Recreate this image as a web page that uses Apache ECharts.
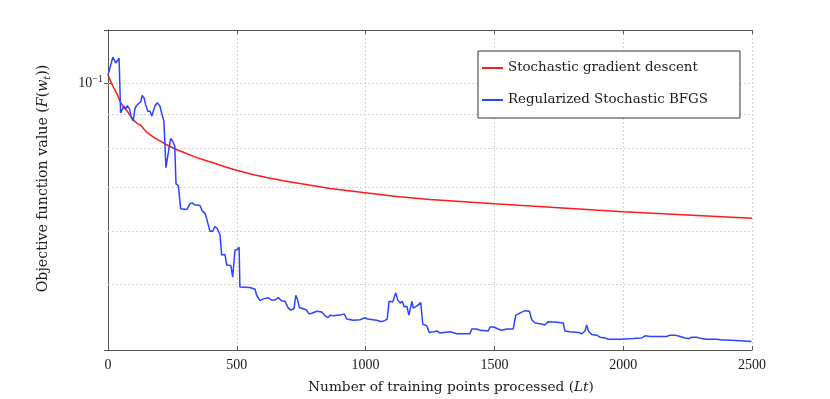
<!DOCTYPE html>
<html>
<head>
<meta charset="utf-8">
<script src="https://cdn.jsdelivr.net/npm/echarts@6/dist/echarts.min.js"></script>
<style>
html,body{margin:0;padding:0;background:#fff;}
#chart{width:830px;height:399px;}
</style>
</head>
<body>
<div id="chart"></div>
<script>
// ---- data ----
const xTicks = [0, 500, 1000, 1500, 2000, 2500];
const yGridValues = [0.05, 0.06, 0.07, 0.08, 0.09, 0.1];
const seriesNames = ['Stochastic gradient descent', 'Regularized Stochastic BFGS'];

const sgdX = [0, 10, 23, 36, 49, 62, 75, 88, 101, 114, 127, 140, 153, 179, 205, 224, 243, 263, 295, 334, 373, 411, 450, 489, 528, 570, 616, 681, 745, 862, 991, 1121, 1250, 1500, 1750, 2000, 2250, 2500];
const sgdY = [0.1031, 0.1008, 0.0985, 0.0963, 0.0936, 0.0920, 0.0909, 0.0894, 0.0880, 0.0871, 0.0866, 0.0854, 0.0844, 0.0830, 0.0819, 0.0811, 0.0804, 0.0797, 0.0788, 0.0777, 0.0768, 0.0760, 0.0751, 0.0743, 0.0736, 0.0729, 0.0723, 0.0715, 0.0708, 0.0696, 0.0686, 0.0677, 0.0670, 0.0660, 0.0651, 0.0642, 0.0635, 0.0628];

const bfgsX = [0, 19, 30, 36, 43, 48, 49, 56, 62, 69, 75, 84, 90, 98, 104, 109, 118, 127, 133, 140, 146, 155, 163, 170, 176, 182, 191, 202, 208, 217, 225, 230, 237, 243, 251, 259, 264, 273, 282, 306, 318, 327, 335, 357, 366, 377, 383, 396, 406, 415, 424, 435, 441, 454, 461, 467, 477, 484, 493, 503, 509, 512, 551, 571, 577, 590, 603, 622, 629, 635, 648, 661, 668, 674, 687, 700, 710, 722, 729, 736, 743, 758, 771, 780, 791, 810, 830, 840, 853, 862, 877, 888, 901, 917, 927, 952, 978, 998, 1007, 1043, 1063, 1075, 1084, 1091, 1105, 1117, 1125, 1134, 1142, 1150, 1160, 1168, 1175, 1180, 1185, 1192, 1201, 1214, 1222, 1237, 1247, 1263, 1278, 1289, 1328, 1354, 1405, 1412, 1431, 1444, 1476, 1483, 1496, 1515, 1528, 1548, 1573, 1583, 1593, 1602, 1619, 1625, 1636, 1645, 1658, 1677, 1696, 1709, 1742, 1767, 1774, 1793, 1826, 1839, 1852, 1858, 1865, 1878, 1897, 1910, 1929, 1942, 1988, 2039, 2072, 2085, 2104, 2130, 2156, 2169, 2182, 2201, 2221, 2240, 2253, 2266, 2285, 2305, 2324, 2344, 2363, 2382, 2402, 2408, 2453, 2498];
const bfgsY = [0.1031, 0.1096, 0.1074, 0.1071, 0.1092, 0.1086, 0.0904, 0.0902, 0.0925, 0.0917, 0.0927, 0.0915, 0.0891, 0.0879, 0.0915, 0.0925, 0.0933, 0.0939, 0.0960, 0.0952, 0.0930, 0.0909, 0.0909, 0.0894, 0.0899, 0.0925, 0.0936, 0.0925, 0.0904, 0.0879, 0.0748, 0.0746, 0.0801, 0.0827, 0.0820, 0.0806, 0.0707, 0.0703, 0.0649, 0.0647, 0.0660, 0.0662, 0.0658, 0.0656, 0.0644, 0.0638, 0.0627, 0.0600, 0.0600, 0.0610, 0.0606, 0.0593, 0.0553, 0.0554, 0.0534, 0.0537, 0.0533, 0.0512, 0.0562, 0.0564, 0.0568, 0.0495, 0.0494, 0.0491, 0.0481, 0.0472, 0.0475, 0.0477, 0.0480, 0.0473, 0.0473, 0.0477, 0.0480, 0.0472, 0.0471, 0.0460, 0.0457, 0.0459, 0.0481, 0.0473, 0.0461, 0.0459, 0.0457, 0.0451, 0.0452, 0.0455, 0.0454, 0.0449, 0.0445, 0.0449, 0.0448, 0.0449, 0.0449, 0.0451, 0.0443, 0.0441, 0.0442, 0.0445, 0.0443, 0.0441, 0.0439, 0.0441, 0.0443, 0.0471, 0.0470, 0.0485, 0.0473, 0.0468, 0.0471, 0.0462, 0.0463, 0.0449, 0.0448, 0.0471, 0.0460, 0.0457, 0.0464, 0.0469, 0.0435, 0.0433, 0.0423, 0.0424, 0.0425, 0.0422, 0.0424, 0.0421, 0.0421, 0.0428, 0.0428, 0.0426, 0.0425, 0.0431, 0.0431, 0.0428, 0.0426, 0.0428, 0.0428, 0.0449, 0.0451, 0.0453, 0.0456, 0.0453, 0.0455, 0.0442, 0.0437, 0.0436, 0.0434, 0.0439, 0.0438, 0.0437, 0.0425, 0.0424, 0.0423, 0.0421, 0.0425, 0.0434, 0.0425, 0.0420, 0.0419, 0.0416, 0.0415, 0.0413, 0.0413, 0.0414, 0.0415, 0.0418, 0.0417, 0.0417, 0.0417, 0.0417, 0.0419, 0.0419, 0.0417, 0.0415, 0.0414, 0.0416, 0.0416, 0.0414, 0.0413, 0.0413, 0.0413, 0.0412, 0.0412, 0.0411, 0.0411, 0.0410];

// ---- chart ----
const FONT = 'DejaVu Serif';
const NUMFONT = 'Liberation Serif';
const zip = (xs, ys) => xs.map((x, i) => [x, ys[i]]);
const chart = echarts.init(document.getElementById('chart'), null, {renderer: 'canvas'});

const yMin = 0.0398, yMax = 0.1204;
const gridLine = {show: true, lineStyle: {color: '#c8c8c8', type: [1.5, 2.5], width: 1}};
const TXT = '#1a1a1a';

chart.setOption({
  animation: false,
  backgroundColor: '#ffffff',
  textStyle: {fontFamily: FONT},
  grid: {left: 108, right: 78, top: 30, bottom: 47, show: false},
  legend: {
    orient: 'vertical',
    left: 478, top: 51,
    padding: [9, 32, 10, 4],
    itemGap: 16,
    itemWidth: 21, itemHeight: 2,
    icon: 'rect',
    backgroundColor: '#fff',
    borderColor: '#333', borderWidth: 1,
    textStyle: {fontFamily: FONT, fontSize: 13.4, color: TXT, lineHeight: 16},
    data: seriesNames
  },
  xAxis: [{
    type: 'value', min: xTicks[0], max: xTicks[xTicks.length - 1], interval: 500,
    name: 'Number of training points processed ({it|Lt})',
    nameLocation: 'middle', nameGap: 30,
    nameTextStyle: {fontFamily: FONT, fontSize: 13.7, color: TXT, padding: [0, 0, 0, 42],
      rich: {it: {fontFamily: FONT, fontStyle: 'italic', fontSize: 13.7, color: TXT}}},
    axisLine: {show: true, lineStyle: {color: '#555', width: 1}},
    axisTick: {show: true, inside: true, length: 4, lineStyle: {color: '#555'}},
    axisLabel: {fontFamily: NUMFONT, fontSize: 14, color: TXT, margin: 8, formatter: v => String(v)},
    splitLine: gridLine
  }, {
    type: 'value', position: 'top', min: 0, max: 2500, interval: 500,
    axisLine: {show: true, lineStyle: {color: '#555', width: 1}},
    axisTick: {show: true, inside: true, length: 4, lineStyle: {color: '#555'}},
    axisLabel: {show: false}, splitLine: {show: false}
  }],
  yAxis: [{
    type: 'log', logBase: 10, min: yMin, max: yMax,
    name: 'Objective function value ({it|F}({it|w}{sub|t}))',
    nameLocation: 'middle', nameGap: 58, nameRotate: 90,
    nameTextStyle: {fontFamily: FONT, fontSize: 14.2, color: TXT, padding: [0, 0, 0, 23],
      rich: {
        it: {fontFamily: FONT, fontStyle: 'italic', fontSize: 14.2, color: TXT},
        sub: {fontFamily: FONT, fontStyle: 'italic', fontSize: 9.5, color: TXT, verticalAlign: 'bottom', padding: [0, 0, -3, 0]}
      }},
    axisLine: {show: true, lineStyle: {color: '#555', width: 1}},
    axisTick: {show: true, inside: true, length: 4, lineStyle: {color: '#555'}},
    axisLabel: {
      margin: 5,
      formatter: v => Math.abs(Math.log10(v) + 1) < 1e-6 ? '{b|10}{s|−1}' : '',
      rich: {
        b: {fontFamily: NUMFONT, fontSize: 14, color: TXT},
        s: {fontFamily: NUMFONT, fontSize: 10, color: TXT, verticalAlign: 'top', padding: [0, 0, 8, 0]}
      }
    },
    splitLine: {show: false}
  }, {
    type: 'log', logBase: 10, min: yMin, max: yMax, position: 'right',
    axisLine: {show: true, lineStyle: {color: '#555', width: 1}},
    axisTick: {show: true, inside: true, length: 4, lineStyle: {color: '#555'}},
    axisLabel: {show: false}, splitLine: {show: false}
  }],
  series: [{
    name: seriesNames[0], type: 'line', xAxisIndex: 0, yAxisIndex: 0,
    data: zip(sgdX, sgdY), showSymbol: false, symbol: 'none',
    lineStyle: {color: '#ff1a1a', width: 1.5}, itemStyle: {color: '#ff1a1a'},
    z: 3,
    markLine: {
      silent: true, symbol: 'none', label: {show: false},
      lineStyle: {color: '#c8c8c8', type: [1.5, 2.5], width: 1},
      data: yGridValues.map(v => ({yAxis: v})),
      z: 1
    }
  }, {
    name: seriesNames[1], type: 'line', xAxisIndex: 0, yAxisIndex: 0,
    data: zip(bfgsX, bfgsY), showSymbol: false, symbol: 'none',
    lineStyle: {color: '#2b44ff', width: 1.5}, itemStyle: {color: '#2b44ff'},
    z: 4
  }]
});
</script>
</body>
</html>
